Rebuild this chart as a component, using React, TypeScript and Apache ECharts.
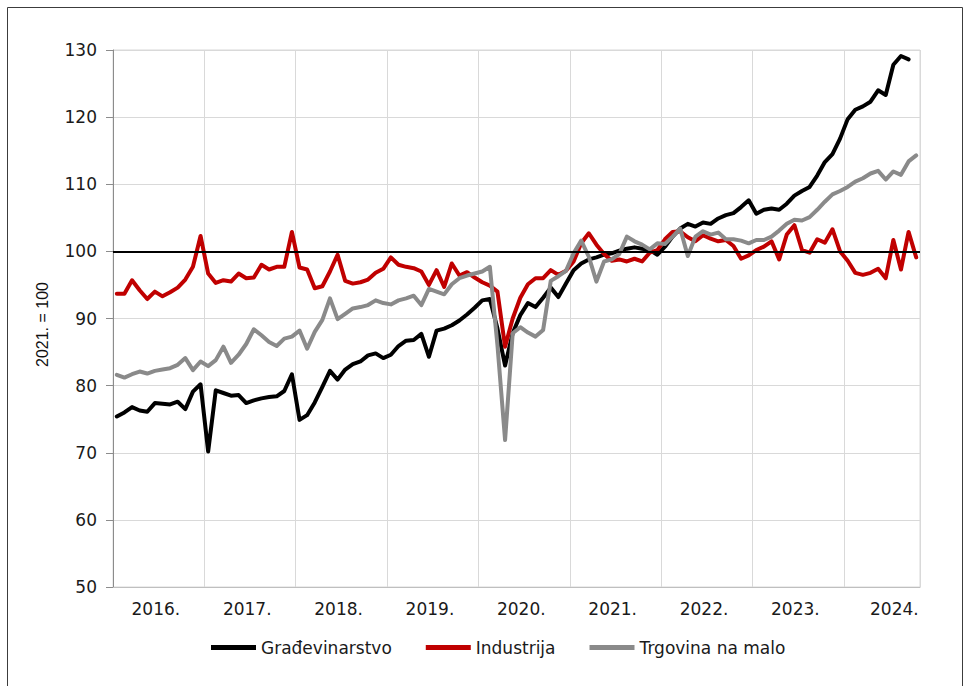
import React, { useEffect, useRef } from "react";
import * as echarts from "echarts";

// ---- Data ----
const years = ["2016", "2017", "2018", "2019", "2020", "2021", "2022", "2023", "2024"];
const monthsInLastYear = 10;
const categories: string[] = [];
years.forEach((y, yi) => {
  const n = yi === years.length - 1 ? monthsInLastYear : 12;
  for (let m = 1; m <= n; m++) categories.push(`${y}-${String(m).padStart(2, "0")}`);
});

const seriesNames = ["Građevinarstvo", "Industrija", "Trgovina na malo"];
const seriesColors = ["#000000", "#c00000", "#8a8a8a"];

const gradjevinarstvo = [
  75.4, 76.0, 76.8, 76.3, 76.1, 77.4, 77.3, 77.2, 77.6, 76.5, 79.1, 80.2,
  70.2, 79.3, 78.9, 78.5, 78.6, 77.4, 77.8, 78.1, 78.3, 78.4, 79.2, 81.7,
  74.9, 75.6, 77.5, 79.8, 82.2, 80.9, 82.4, 83.2, 83.6, 84.5, 84.8, 84.1,
  84.6, 85.9, 86.7, 86.8, 87.7, 84.3, 88.2, 88.5, 89.0, 89.7, 90.6, 91.6,
  92.7, 92.9, 88.5, 83.0, 87.8, 90.5, 92.3, 91.7, 93.1, 94.6, 93.2, 95.2,
  97.2, 98.2, 98.8, 99.1, 99.5, 99.7, 100.1, 100.4, 100.6, 100.4, 100.2, 99.5,
  100.7, 102.2, 103.4, 104.1, 103.7, 104.3, 104.1, 104.9, 105.4, 105.7, 106.6, 107.6,
  105.6, 106.2, 106.4, 106.2, 107.1, 108.3, 109.0, 109.6, 111.3, 113.3, 114.5, 116.8,
  119.7, 121.1, 121.6, 122.3, 124.0, 123.3, 127.8, 129.1, 128.6, null,
];

const industrija = [
  93.7, 93.7, 95.7, 94.2, 92.9, 94.0, 93.3, 93.9, 94.6, 95.8, 97.7, 102.3,
  96.7, 95.3, 95.7, 95.5, 96.7, 96.0, 96.1, 98.0, 97.3, 97.7, 97.7, 102.9,
  97.6, 97.3, 94.5, 94.8, 97.0, 99.5, 95.6, 95.2, 95.4, 95.8, 96.8, 97.4,
  99.1, 98.0, 97.7, 97.5, 97.0, 95.0, 97.2, 94.7, 98.2, 96.4, 96.9, 96.1,
  95.4, 94.9, 94.0, 85.8, 90.0, 93.1, 95.1, 96.0, 96.0, 97.2, 96.5, 97.1,
  98.5, 101.2, 102.7, 101.0, 99.6, 98.6, 98.8, 98.5, 98.9, 98.5, 99.8, 100.2,
  101.8, 102.9, 103.0, 102.1, 101.5, 102.4, 101.9, 101.5, 101.7, 100.8, 98.9, 99.4,
  100.2, 100.7, 101.5, 98.8, 102.5, 103.9, 100.2, 99.8, 101.8, 101.3, 103.3, 100.0,
  98.6, 96.8, 96.5, 96.8, 97.4, 96.0, 101.7, 97.3, 102.9, 99.1,
];

const trgovina = [
  81.6, 81.2, 81.7, 82.1, 81.8, 82.2, 82.4, 82.6, 83.1, 84.1, 82.3, 83.6,
  82.9, 83.8, 85.8, 83.4, 84.6, 86.2, 88.4, 87.5, 86.5, 85.9, 87.0, 87.3,
  88.2, 85.5, 88.0, 89.8, 93.0, 89.9, 90.7, 91.5, 91.7, 92.0, 92.7, 92.3,
  92.1, 92.7, 93.0, 93.4, 92.0, 94.4, 94.0, 93.6, 95.1, 96.0, 96.4, 96.7,
  97.0, 97.7, 86.0, 71.9, 87.8, 88.7, 87.9, 87.3, 88.3, 95.6, 96.3, 97.1,
  99.7, 101.6, 99.2, 95.5, 98.5, 98.8, 99.6, 102.2, 101.5, 101.0, 100.3, 101.2,
  101.1, 102.2, 103.4, 99.3, 102.2, 103.0, 102.5, 102.8, 101.8, 101.8, 101.6, 101.2,
  101.7, 101.7, 102.2, 103.1, 104.1, 104.7, 104.6, 105.1, 106.2, 107.4, 108.5, 109.0,
  109.6, 110.4, 110.9, 111.6, 112.0, 110.7, 111.9, 111.4, 113.4, 114.3,
];

const seriesData = [gradjevinarstvo, industrija, trgovina];

const yMin = 50;
const yMax = 130;
const yStep = 10;
const baseLine = 100;
const yAxisName = "2021. = 100";

export default function App() {
  const ref = useRef<HTMLDivElement>(null);

  useEffect(() => {
    if (!ref.current) return;
    const chart = echarts.init(ref.current, undefined, { renderer: "svg" });
    const font = "DejaVu Sans";
    const lastFullYearStart = (years.length - 1) * 12;
    const option: any = {
      animation: false,
      backgroundColor: "#ffffff",
      graphic: [
        {
          type: "rect",
          silent: true,
          shape: { x: 7.5, y: 7.5, width: 955, height: 700 },
          style: { fill: "none", stroke: "#3c3c3c", lineWidth: 1 },
        },
      ],
      grid: {
        left: 113,
        top: 50,
        width: 807,
        height: 537,
        show: true,
        borderColor: "#d9d9d9",
        borderWidth: 1,
        backgroundColor: "transparent",
      },
      legend: {
        left: 206,
        top: 634,
        icon: "rect",
        itemWidth: 45,
        itemHeight: 5,
        itemGap: 34,
        textStyle: { fontFamily: font, fontSize: 17, color: "#1a1a1a" },
        data: seriesNames,
      },
      xAxis: {
        type: "category",
        data: categories,
        boundaryGap: true,
        axisLine: { show: true, lineStyle: { color: "#bfbfbf", width: 1 } },
        axisTick: { show: false },
        axisLabel: {
          interval: (index: number) =>
            index < lastFullYearStart ? index % 12 === 5 : index === lastFullYearStart + 6,
          formatter: (v: string) => v.slice(0, 4) + ".",
          fontFamily: font,
          fontSize: 17,
          color: "#1a1a1a",
          margin: 13,
          padding: [0, 0, 0, 2],
        },
        splitLine: {
          show: true,
          interval: (index: number) => index % 12 === 0,
          lineStyle: { color: "#d9d9d9", width: 1 },
        },
      },
      yAxis: {
        type: "value",
        min: yMin,
        max: yMax,
        interval: yStep,
        name: yAxisName,
        nameLocation: "middle",
        nameRotate: 90,
        nameGap: 63,
        nameTextStyle: { fontFamily: "Liberation Sans", fontSize: 16, color: "#111111", padding: [0, 0, 0, -12] },
        axisLine: { show: true, lineStyle: { color: "#8c8c8c", width: 1 } },
        axisTick: { show: true, length: 7, lineStyle: { color: "#8c8c8c" } },
        axisLabel: { fontFamily: font, fontSize: 17, color: "#1a1a1a", margin: 16 },
        splitLine: { show: true, lineStyle: { color: "#d9d9d9", width: 1 } },
      },
      series: seriesNames.map((name, i) => ({
        name,
        type: "line",
        data: seriesData[i],
        showSymbol: false,
        symbol: "none",
        color: seriesColors[i],
        lineStyle: { color: seriesColors[i], width: 4, join: "round", cap: "round" },
        markLine:
          i === 0
            ? {
                silent: true,
                symbol: ["none", "none"],
                label: { show: false },
                lineStyle: { color: "#000000", width: 2, type: "solid" },
                data: [{ yAxis: baseLine }],
              }
            : undefined,
      })),
    };
    chart.setOption(option);
    return () => chart.dispose();
  }, []);

  return (
    <div
      ref={ref}
      style={{ position: "fixed", left: 0, top: 0, width: 968, height: 686 }}
    />
  );
}
